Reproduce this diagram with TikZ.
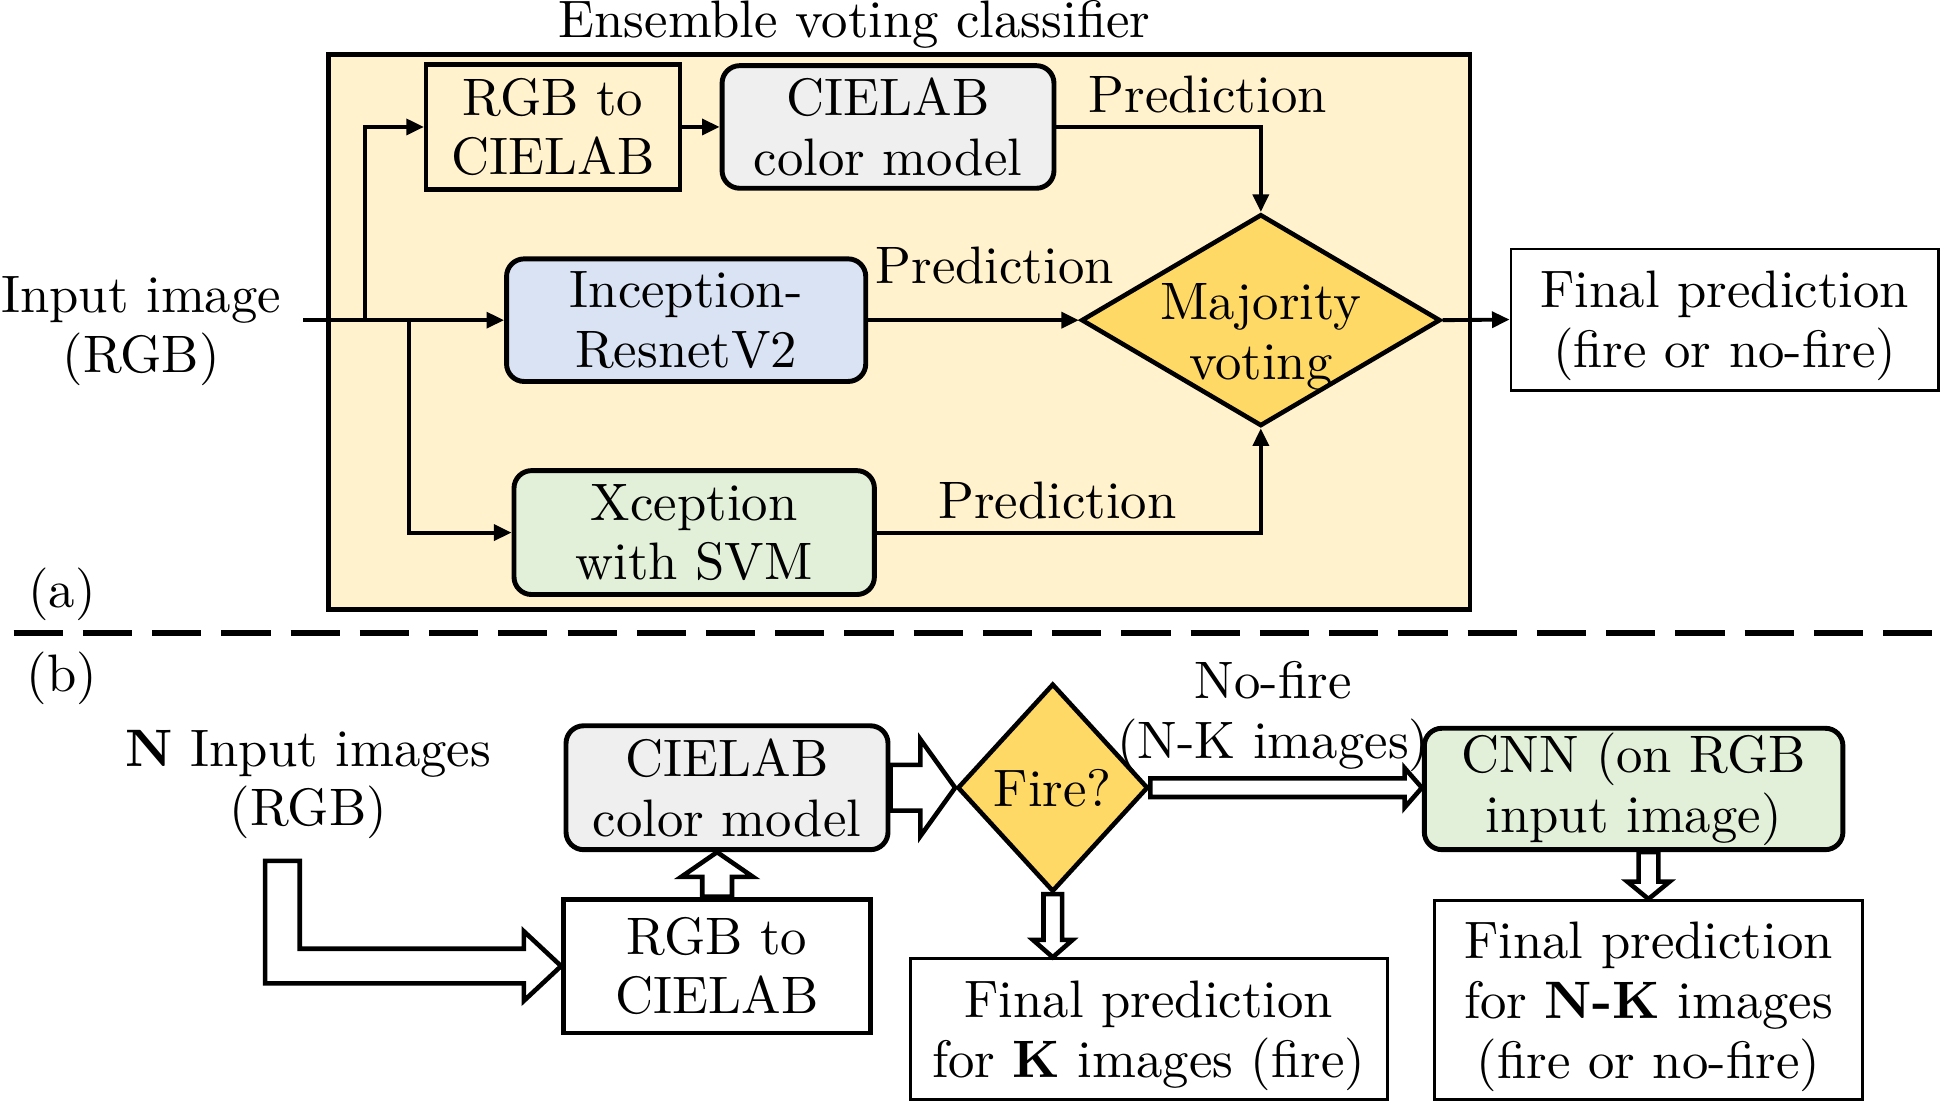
\documentclass[tikz,border=0pt]{standalone}
\usepackage{fontspec}
\setmainfont{lmroman10}[Extension=.otf, UprightFont=*-regular, BoldFont=*-bold]
\usetikzlibrary{shapes.geometric,arrows.meta,calc}

\definecolor{ensfill}{HTML}{FFF2CC}
\definecolor{cielabfill}{HTML}{EFEFEF}
\definecolor{incepfill}{HTML}{DAE3F3}
\definecolor{xcepfill}{HTML}{E2F0D9}
\definecolor{votefill}{HTML}{FFD966}

% hollow block arrows: #1 from, #2 to, #3 half shaft, #4 half head, #5 head length
\newcommand{\hollowright}[5]{%
  \draw[hollow] ($(#1)+(0,-#3)$) -- ($(#1 -| #2)+(-#5,-#3)$) -- ($(#1 -| #2)+(-#5,-#4)$)
    -- (#1 -| #2) -- ($(#1 -| #2)+(-#5,#4)$) -- ($(#1 -| #2)+(-#5,#3)$) -- ($(#1)+(0,#3)$) -- cycle;}
\newcommand{\hollowdown}[5]{%
  \draw[hollow] ($(#1)+(-#3,0)$) -- ($(#1 |- #2)+(-#3,-#5)$) -- ($(#1 |- #2)+(-#4,-#5)$)
    -- (#1 |- #2) -- ($(#1 |- #2)+(#4,-#5)$) -- ($(#1 |- #2)+(#3,-#5)$) -- ($(#1)+(#3,0)$) -- cycle;}
\newcommand{\hollowup}[5]{%
  \draw[hollow] ($(#1)+(-#3,0)$) -- ($(#1 |- #2)+(-#3,#5)$) -- ($(#1 |- #2)+(-#4,#5)$)
    -- (#1 |- #2) -- ($(#1 |- #2)+(#4,#5)$) -- ($(#1 |- #2)+(#3,#5)$) -- ($(#1)+(#3,0)$) -- cycle;}

\begin{document}
\begin{tikzpicture}
[x=0.12385mm, y=-0.12385mm,
 every node/.style={font=\fontsize{15}{17}\selectfont, align=center},
 plaintext/.style={text depth=0pt},
 plainbox/.style={rectangle, draw=black, line width=1.2pt, inner xsep=3pt, inner ysep=0.5pt},
 finalbox/.style={rectangle, draw=black, line width=0.8pt, fill=white, inner xsep=3pt, inner ysep=0.5pt, text depth=0pt},
 modelbox/.style={rectangle, rounded corners=5pt, draw=black, line width=1.4pt, inner xsep=3pt, inner ysep=0.5pt},
 decision/.style={diamond, draw=black, line width=1.3pt, fill=votefill, inner sep=0pt},
 conn/.style={-{Triangle[length=5pt,width=4.5pt]}, line width=1.1pt},
 hollow/.style={draw=black, line width=1.3pt, fill=white, line join=miter}]
\useasboundingbox (0,0) rectangle (1568,890.6);

% (a) ensemble
\node [plainbox, fill=ensfill, line width=1.3pt, minimum width=114.19mm, minimum height=55.48mm] (ens) at (726,268) {};
\node (enstitle) at (690,20) {Ensemble voting classifier};
\node [plainbox, minimum width=25.39mm, minimum height=12.51mm] (rgbA) at (446.5,102.5) {RGB to\\CIELAB};
\node [modelbox, fill=cielabfill, minimum width=33.19mm, minimum height=12.26mm] (cieA) at (717,102.5) {CIELAB\\color model};
\node [modelbox, fill=incepfill, minimum width=35.92mm, minimum height=12.26mm] (incep) at (554,258.5) {Inception-\\ResnetV2};
\node [modelbox, fill=xcepfill, minimum width=36.04mm, minimum height=12.39mm] (xcep) at (560.5,430) {Xception\\with SVM};
\node [decision, minimum width=35.92mm, minimum height=21.18mm,
  label={[yshift=-1.7mm]center:Majority\\voting}] (vote) at (1018,258.5) {};
\node [finalbox, minimum width=42.73mm, minimum height=14.12mm] (finalA) at (1392.5,258) {Final prediction\\(fire or no-fire)};
\node [plaintext] (inA) at (114,262) {Input image\\(RGB)};
\node (labA) at (50,480) {(a)};

\coordinate (inAout) at (245,258.5);
\coordinate (brA) at (295,258.5);
\coordinate (brB) at (330,258.5);
\draw [conn] (inAout) -- (incep.west);
\draw [conn] (brA) |- (rgbA.west);
\draw [conn] (brB) |- (xcep.west);
\draw [conn] (rgbA) -- (cieA);
\draw [conn] (cieA.east) -| node [pos=0.37, above] (predA) {Prediction} (vote.north);
\draw [conn] (incep.east) -- node [pos=0.6, above, yshift=2.2mm] (predB) {Prediction} (vote.west);
\draw [conn] (xcep.east) -| node [pos=0.235, above] (predC) {Prediction} (vote.south);
\draw [conn] (vote.east) -- (finalA.west);

\draw [line width=1.5pt, dash pattern=on 14pt off 5.7pt] (11,511) -- (1568,511);

% (b) cascade
\node (labB) at (50,548) {(b)};
\node [plaintext] (inB) at (249,628) {\textbf{N} Input images\\(RGB)};
\node [modelbox, fill=cielabfill, minimum width=32.20mm, minimum height=12.39mm] (cieB) at (587,636) {CIELAB\\color model};
\node [decision, minimum width=19.07mm, minimum height=20.81mm, label=center:Fire?] (fire) at (850,636) {};
\node [modelbox, fill=xcepfill, minimum width=41.86mm, minimum height=12.14mm] (cnn) at (1319,637) {CNN (on RGB\\input image)};
\node [plainbox, fill=white, line width=1.4pt, minimum width=30.71mm, minimum height=13.38mm] (rgbB) at (579,780) {RGB to\\CIELAB};
\node [finalbox, minimum width=47.68mm, minimum height=14.12mm] (finalK) at (927.5,831) {Final prediction\\for \textbf{K} images (fire)};
\node [finalbox, minimum width=42.85mm, minimum height=19.94mm] (finalNK) at (1331,807.5) {Final prediction\\for \textbf{N-K} images\\(fire or no-fire)};
\node [plaintext] (nofire) at (1028,573) {No-fire\\(N-K images)};

\coordinate (inBout) at (228,695);
\coordinate (cnnout) at (cnn.south -| finalNK.north);
\draw [hollow] ($(inBout)+(-14,0)$) -- ($(inBout)+(14,0)$) -- ($(inBout |- rgbB.west)+(14,-14)$)
  -- ($(rgbB.west)+(-30,-14)$) -- ($(rgbB.west)+(-30,-28)$) -- (rgbB.west)
  -- ($(rgbB.west)+(-30,28)$) -- ($(rgbB.west)+(-30,14)$) -- ($(inBout |- rgbB.west)+(-14,14)$) -- cycle;
\hollowup{rgbB.north}{cieB.south}{12}{29}{20}
\hollowright{cieB.east}{fire.west}{18.5}{39}{28}
\hollowright{fire.east}{cnn.west}{7.5}{16}{14}
\hollowdown{fire.south}{finalK.north}{7.5}{16}{14}
\hollowdown{cnnout}{finalNK.north}{8}{17}{14}
\end{tikzpicture}
\end{document}
